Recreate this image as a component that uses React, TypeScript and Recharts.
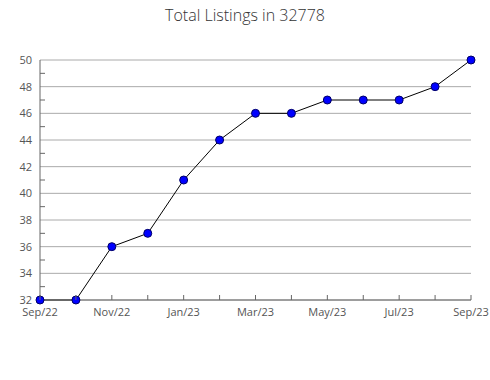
import { LineChart, Line, XAxis, YAxis, CartesianGrid } from "recharts";

const months = [
  "Sep/22", "Oct/22", "Nov/22", "Dec/22", "Jan/23", "Feb/23", "Mar/23",
  "Apr/23", "May/23", "Jun/23", "Jul/23", "Aug/23", "Sep/23",
];
const listings = [32, 32, 36, 37, 41, 44, 46, 46, 47, 47, 47, 48, 50];
const yTicks = [32, 33, 34, 35, 36, 37, 38, 39, 40, 41, 42, 43, 44, 45, 46, 47, 48, 49, 50];
const gridValues = [32, 34, 36, 38, 40, 42, 44, 46, 48, 50];

const data = months.map((m, i) => ({ month: m, value: listings[i] }));

const FONT = "'Open Sans', sans-serif";

function XTick(props: any) {
  const { x, y, payload, index } = props;
  return (
    <g>
      <line x1={x} x2={x} y1={y} y2={y - 5} stroke="#666" />
      {index % 2 === 0 && (
        <text x={x} y={y + 16} textAnchor="middle" fill="#555" fontSize={11} fontFamily={FONT}>
          {payload.value}
        </text>
      )}
    </g>
  );
}

function YTick(props: any) {
  const { x, y, payload } = props;
  if (payload.value % 2 !== 0) {
    return <line x1={x} x2={x + 5} y1={y} y2={y} stroke="#666" />;
  }
  return (
    <text x={x - 8} y={y + 4} textAnchor="end" fill="#555" fontSize={11} fontFamily={FONT}>
      {payload.value}
    </text>
  );
}

export default function App() {
  return (
    <div style={{ position: "absolute", left: 0, top: 0, width: 490, height: 380, background: "#fff" }}>
      <div
        style={{
          position: "absolute",
          top: 4,
          width: 490,
          textAlign: "center",
          fontFamily: FONT,
          fontSize: 16,
          fontWeight: 300,
          color: "#333",
        }}
      >
        Total Listings in 32778
      </div>
      <LineChart width={490} height={380} data={data} margin={{ top: 60, right: 19, bottom: 50, left: 0 }}>
        <CartesianGrid vertical={false} horizontalValues={gridValues} stroke="#aaa" />
        <XAxis
          dataKey="month"
          interval={0}
          tickSize={0}
          tickMargin={0}
          height={30}
          stroke="#666"
          tick={<XTick />}
        />
        <YAxis
          domain={[32, 50]}
          ticks={yTicks}
          interval={0}
          width={40}
          tickSize={0}
          tickMargin={0}
          stroke="#666"
          tick={<YTick />}
        />
        <Line
          dataKey="value"
          stroke="#000"
          strokeWidth={1}
          isAnimationActive={false}
          dot={{ r: 4, fill: "#0000ff", stroke: "#000066", strokeWidth: 1 }}
        />
      </LineChart>
    </div>
  );
}
